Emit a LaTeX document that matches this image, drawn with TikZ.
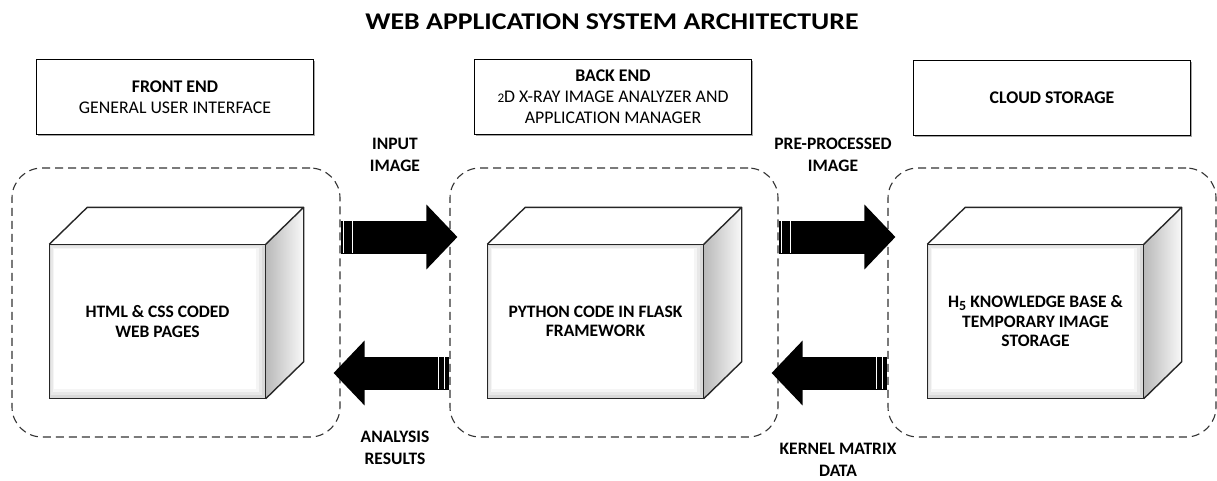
\documentclass[tikz,border=0pt]{standalone}
\usepackage{fontspec}
\setmainfont{Carlito}
\usetikzlibrary{arrows.meta,calc,shadows}
\newcommand\osTwo{\scalebox{0.74}{2}}
\newcommand\osFive{\raisebox{-0.3ex}{\scalebox{0.8}{5}}}
\tikzset{
  topbox/.style={draw=black, line width=0.8pt, fill=white, minimum width=277pt, minimum height=75pt,
    align=center, font=\fontsize{17.8}{21}\selectfont, drop shadow={shadow xshift=1.2pt, shadow yshift=-1.2pt, fill=gray!70, opacity=1}},
  container/.style={draw=black!80, dashed, dash pattern=on 8pt off 5pt, line width=1.1pt, rounded corners=30pt,
    minimum width=328pt, minimum height=269pt},
  front/.style={draw=black!85, line width=1.4pt, fill=gray!45, minimum width=215pt, minimum height=153pt},
  cubetext/.style={align=center, font=\bfseries\fontsize{17.5}{19.5}\selectfont},
  lbl/.style={align=center, inner sep=1pt, font=\bfseries\fontsize{17.5}{22}\selectfont},
  bigarrow/.style={line width=33pt, -{Triangle[length=31pt,width=63pt]}, black},
  stripe/.style={white, line width=1pt},
}
\newcommand\mycube[4]{%
  \node[front] (#1) at (#2,#3) {};
  \fill[gray!30] ($(#1.north west)+(1,1)$) rectangle ($(#1.south east)+(-1,-1)$);
  \fill[gray!18] ($(#1.north west)+(2,2)$) rectangle ($(#1.south east)+(-4,-4)$);
  \fill[gray!8]  ($(#1.north west)+(3.5,3.5)$) rectangle ($(#1.south east)+(-7,-7)$);
  \fill[white]   ($(#1.north west)+(5,5)$) rectangle ($(#1.south east)+(-10,-10)$);
  \fill[white] (#1.north west) -- ++(38,-37) -- ($(#1.north east)+(38,-37)$) -- (#1.north east) -- cycle;
  \shade[left color=gray!30, right color=white] ($(#1.north east)+(22,-22)$) -- ($(#1.north east)+(38,-37)$) -- ($(#1.north east)+(10,-3)$) -- cycle;
  \shade[left color=gray!55, right color=gray!5] (#1.north east) -- ($(#1.north east)+(38,-37)$) -- ($(#1.south east)+(38,-37)$) -- (#1.south east) -- cycle;
  \draw[black!85, line width=1.4pt, line join=round] (#1.north west) -- ++(38,-37) -- ($(#1.north east)+(38,-37)$) -- ($(#1.south east)+(38,-37)$) -- (#1.south east)
     (#1.north east) -- ($(#1.north east)+(38,-37)$);
  \draw[black!85, line width=1.4pt] (#1.north west) rectangle (#1.south east);
  \node[cubetext] (#1-t) at (#1.center) {#4};
}
\begin{document}
\begin{tikzpicture}[x=1pt,y=-1pt]
\useasboundingbox[fill=white] (0,0) rectangle (1217,481);

\node[font=\bfseries\fontsize{24}{28}\selectfont] (title) at (612,22) {\scalebox{1.16}[1]{WEB APPLICATION SYSTEM ARCHITECTURE}};

\node[topbox] (fe) at (175,97) {\textbf{FRONT END}\\GENERAL USER INTERFACE};
\node[topbox] (be) at (613,97) {\textbf{BACK END}\\\osTwo D X-RAY IMAGE ANALYZER AND\\APPLICATION MANAGER};
\node[topbox] (cs) at (1052,98) {\textbf{CLOUD STORAGE}};

\node[container] (c1) at (176,302.5) {};
\node[container] (c2) at (614,302.5) {};
\node[container] (c3) at (1052,302.5) {};

\mycube{k1}{157.5}{321.5}{HTML \& CSS CODED\\WEB PAGES}
\mycube{k2}{595.5}{321.5}{PYTHON CODE IN FLASK\\FRAMEWORK}
\mycube{k3}{1035.5}{321.5}{H\osFive\ KNOWLEDGE BASE \&\\TEMPORARY IMAGE\\STORAGE}

% arrows
\coordinate (a1s) at (c1.east |- 0,237);
\coordinate (a1e) at ([xshift=8pt]c2.west |- 0,237);
\coordinate (a2s) at (c2.west |- 0,373);
\coordinate (a2e) at ([xshift=-7pt]c1.east |- 0,373);
\coordinate (a3s) at (c2.east |- 0,237);
\coordinate (a3e) at ([xshift=8pt]c3.west |- 0,237);
\coordinate (a4s) at (c3.west |- 0,373);
\coordinate (a4e) at ([xshift=-7pt]c2.east |- 0,373);
\draw[bigarrow] (a1s) -- (a1e);
\draw[bigarrow] (a2s) -- (a2e);
\draw[bigarrow] (a3s) -- (a3e);
\draw[bigarrow] (a4s) -- (a4e);
\foreach \s/\d in {a1s/3, a1s/12, a3s/3, a3s/12, a2s/-5, a2s/-11, a4s/-5, a4s/-11}
  \draw[stripe] ([xshift=\d pt, yshift=16pt]\s) -- ([xshift=\d pt, yshift=-16pt]\s);

\node[lbl] (l1) at (395,155) {INPUT\\IMAGE};
\node[lbl] (l2) at (833,155) {PRE-PROCESSED\\IMAGE};
\node[lbl] (l3) at (395,448) {ANALYSIS\\RESULTS};
\node[lbl] (l4) at (838,460) {KERNEL MATRIX\\DATA};
\end{tikzpicture}
\end{document}
